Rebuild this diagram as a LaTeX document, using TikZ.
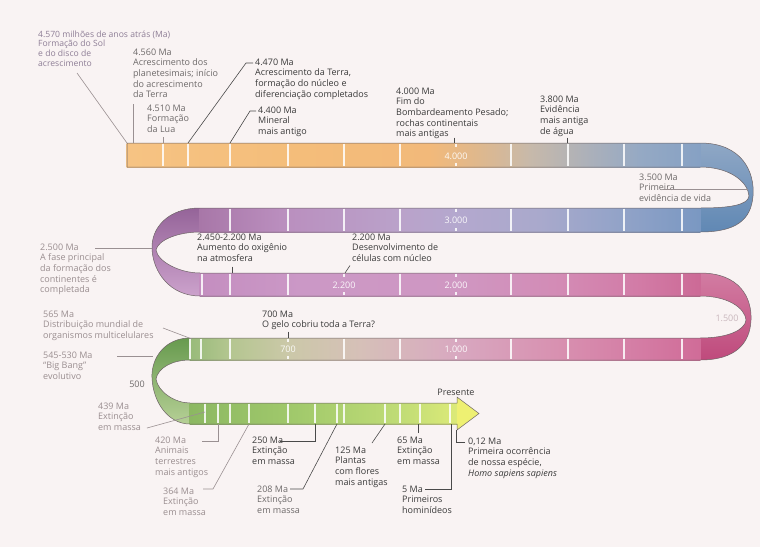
\documentclass[tikz,border=0pt]{standalone}
\usepackage{fontspec}
\setmainfont{Open Sans}
\definecolor{bg}{HTML}{F9F3F3}
\definecolor{txtdark}{HTML}{3A3A3A}
\definecolor{txtmid}{HTML}{6E6A6A}
\definecolor{txtfaint}{HTML}{9A8E90}
\definecolor{txtpurple}{HTML}{8E7E96}
\definecolor{txtpale}{HTML}{C9B7BD}
\definecolor{linedark}{HTML}{4A4A4A}
\definecolor{linefaint}{HTML}{9A9092}
\definecolor{ribbonedge}{HTML}{6E6466}
% band 1
\definecolor{b1a}{HTML}{F6C383}\definecolor{b1b}{HTML}{F4BD7A}\definecolor{b1c}{HTML}{F2B97A}
\definecolor{b1d}{HTML}{DEB88E}\definecolor{b1e}{HTML}{C7B9AA}\definecolor{b1f}{HTML}{ABB0BA}
\definecolor{b1g}{HTML}{95A9C4}\definecolor{b1h}{HTML}{86A1C4}
\definecolor{c1t}{HTML}{8FA7C5}\definecolor{c1b}{HTML}{6088B4}
% band 2
\definecolor{b2a}{HTML}{A877A8}\definecolor{b2b}{HTML}{BA8EBE}\definecolor{b2c}{HTML}{BAA2CA}
\definecolor{b2d}{HTML}{B4A8CE}\definecolor{b2e}{HTML}{A9A9CC}\definecolor{b2f}{HTML}{92A3C8}
\definecolor{b2g}{HTML}{7A98C2}
\definecolor{c2t}{HTML}{956499}\definecolor{c2b}{HTML}{CCA2CC}
% band 3
\definecolor{b3a}{HTML}{C48EC0}\definecolor{b3b}{HTML}{CB98C6}\definecolor{b3c}{HTML}{CF97C2}
\definecolor{b3d}{HTML}{D38BB5}\definecolor{b3e}{HTML}{D27BA6}\definecolor{b3f}{HTML}{CC6A96}
\definecolor{c3t}{HTML}{D27CA2}\definecolor{c3b}{HTML}{BF4A7C}
% band 4
\definecolor{b4a}{HTML}{98BB7A}\definecolor{b4b}{HTML}{B4C690}\definecolor{b4c}{HTML}{CBC8A8}
\definecolor{b4d}{HTML}{D6C0B8}\definecolor{b4e}{HTML}{D8A8C0}\definecolor{b4f}{HTML}{D890B0}
\definecolor{b4g}{HTML}{D47CA4}\definecolor{b4h}{HTML}{D06C98}
\definecolor{c4t}{HTML}{679A4E}\definecolor{c4b}{HTML}{B6D096}
% band 5
\definecolor{b5a}{HTML}{8CB862}\definecolor{b5b}{HTML}{A2CA6C}\definecolor{b5c}{HTML}{C0DC76}
\definecolor{b5d}{HTML}{DCEA78}\definecolor{arrowc}{HTML}{EEF072}
\newcommand\rseg[6]{\fill[left color=#5,right color=#6] ({#1-0.3},#3) rectangle ({#2+0.3},#4);}
\begin{document}
\begin{tikzpicture}[x=1pt,y=-1pt,
  txt/.style={anchor=north west,inner sep=0pt,align=left,font=\fontsize{9}{10.6}\selectfont,text=txtdark},
  faint/.style={txt,text=txtfaint},
  midt/.style={txt,text=txtmid},
  leader/.style={draw=linedark,line width=0.6pt},
  fleader/.style={draw=linefaint,line width=0.6pt},
  tickline/.style={draw=white,line width=1.1pt,opacity=0.85},
  blabel/.style={text=white,font=\fontsize{9}{10}\selectfont,inner sep=0.5pt,opacity=0.92},
  edgeline/.style={draw=ribbonedge,line width=0.5pt}]
\useasboundingbox (0,0) rectangle (760,547);
\fill[bg] (0,0) rectangle (760,547);

% ---------- curved pieces ----------
\path[top color=c1t,bottom color=c1b] (700,143) .. controls (742,143) and (755,172) .. (753,196) .. controls (751,220) and (736,232) .. (700,232) -- (700,208) .. controls (730,208) and (748,205) .. (749,196) .. controls (748,182) and (730,167) .. (700,167) -- cycle;
\path[top color=c2t,bottom color=c2b] (200,208) .. controls (168,208) and (151,228) .. (152,249) .. controls (153,272) and (170,296) .. (200,296) -- (200,273) .. controls (180,273) and (158,262) .. (156,250) .. controls (158,240) and (178,232) .. (200,232) -- cycle;
\path[top color=c3t,bottom color=c3b] (700,273) .. controls (740,273) and (752,298) .. (751,320) .. controls (750,343) and (736,360) .. (700,360) -- (700,338) .. controls (728,338) and (745,330) .. (746,320) .. controls (745,308) and (728,296) .. (700,296) -- cycle;
\path[top color=c4t,bottom color=c4b] (190,338) .. controls (165,338) and (151,358) .. (152,378) .. controls (153,402) and (168,424) .. (190,424) -- (190,403) .. controls (175,403) and (158,392) .. (156,379) .. controls (158,368) and (172,360) .. (190,360) -- cycle;

% ---------- straight bands ----------
\rseg{127}{300}{143}{167}{b1a}{b1b}\rseg{300}{430}{143}{167}{b1b}{b1c}
\rseg{430}{480}{143}{167}{b1c}{b1d}\rseg{480}{530}{143}{167}{b1d}{b1e}
\rseg{530}{590}{143}{167}{b1e}{b1f}\rseg{590}{640}{143}{167}{b1f}{b1g}
\rseg{640}{700}{143}{167}{b1g}{b1h}

\rseg{200}{280}{208}{232}{b2a}{b2b}\rseg{280}{400}{208}{232}{b2b}{b2c}
\rseg{400}{456}{208}{232}{b2c}{b2d}\rseg{456}{540}{208}{232}{b2d}{b2e}
\rseg{540}{620}{208}{232}{b2e}{b2f}\rseg{620}{700}{208}{232}{b2f}{b2g}

\rseg{200}{300}{273}{296}{b3a}{b3b}\rseg{300}{456}{273}{296}{b3b}{b3c}
\rseg{456}{560}{273}{296}{b3c}{b3d}\rseg{560}{640}{273}{296}{b3d}{b3e}
\rseg{640}{700}{273}{296}{b3e}{b3f}

\rseg{190}{230}{338}{360}{b4a}{b4b}\rseg{230}{288}{338}{360}{b4b}{b4c}
\rseg{288}{360}{338}{360}{b4c}{b4d}\rseg{360}{456}{338}{360}{b4d}{b4e}
\rseg{456}{560}{338}{360}{b4e}{b4f}\rseg{560}{640}{338}{360}{b4f}{b4g}
\rseg{640}{700}{338}{360}{b4g}{b4h}

\rseg{190}{300}{403}{424}{b5a}{b5b}\rseg{300}{400}{403}{424}{b5b}{b5c}
\rseg{400}{457}{403}{424}{b5c}{b5d}
\fill[arrowc] (457,397) -- (479,413.5) -- (457,430) -- cycle;

% ---------- ribbon edges ----------
\draw[edgeline] (127,167) -- (127,143) -- (700,143) .. controls (742,143) and (755,172) .. (753,196) .. controls (751,220) and (736,232) .. (700,232) -- (200,232);
\draw[edgeline] (127,167) -- (700,167) .. controls (730,167) and (748,182) .. (749,196) .. controls (748,205) and (730,208) .. (700,208) -- (200,208) .. controls (168,208) and (151,228) .. (152,249) .. controls (153,272) and (170,296) .. (200,296) -- (700,296);
\draw[edgeline] (200,232) .. controls (178,232) and (158,240) .. (156,250) .. controls (158,262) and (180,273) .. (200,273) -- (700,273) .. controls (740,273) and (752,298) .. (751,320) .. controls (750,343) and (736,360) .. (700,360) -- (190,360);
\draw[edgeline] (700,296) .. controls (728,296) and (745,308) .. (746,320) .. controls (745,330) and (728,338) .. (700,338) -- (190,338) .. controls (165,338) and (151,358) .. (152,378) .. controls (153,402) and (168,424) .. (190,424) -- (457,424) -- (457,430) -- (479,413.5) -- (457,397) -- (457,403) -- (190,403);
\draw[edgeline] (190,360) .. controls (172,360) and (158,368) .. (156,379) .. controls (158,392) and (175,403) .. (190,403);

% ---------- ticks ----------
\foreach \x in {163,188,230,288,344,400,511,568,624,682} \draw[tickline] (\x,143.6) -- (\x,166.4);
\foreach \x in {230,288,344,400,511,568,624,682} \draw[tickline] (\x,208.6) -- (\x,231.4);
\foreach \x in {202,230,288,400,511,568,624,682} \draw[tickline] (\x,273.6) -- (\x,295.4);
\foreach \x in {190,201,230,344,400,511,568,624,682} \draw[tickline] (\x,338.6) -- (\x,359.4);
\foreach \x in {205,218,230,249,288,315,337,344,385,400,420,450} \draw[tickline] (\x,403.6) -- (\x,423.4);
\foreach \x/\a/\b in {456/143/167,456/208/232,344/273/296,456/273/296,288/338/360,456/338/360}
  {\draw[tickline] (\x,\a+0.6) -- (\x,\a+4); \draw[tickline] (\x,\b-4) -- (\x,\b-0.6);}

% ---------- ribbon labels ----------
\node[blabel] (r4000) at (456,156) {4.000};
\node[blabel] (r3000) at (456,220.5) {3.000};
\node[blabel] (r2200) at (344,285) {2.200};
\node[blabel] (r2000) at (456,285) {2.000};
\node[blabel,text=txtpale,opacity=1] (r1500) at (727,318) {1.500};
\node[blabel] (r700) at (288,349.5) {700};
\node[blabel] (r1000) at (456,349.5) {1.000};

% ---------- band anchor points ----------
\coordinate (p4570) at (127,143);
\coordinate (p4560) at (133,143);
\coordinate (p4510) at (163,143);
\coordinate (p4470) at (188,143);
\coordinate (p4400) at (230,143);
\coordinate (p4000) at (454,143);
\coordinate (p3800) at (567,143);
\coordinate (p3500) at (748,189);
\coordinate (p2500) at (152,248);
\coordinate (p2450) at (232,273);
\coordinate (p2200) at (345,273);
\coordinate (p565) at (192,339);
\coordinate (p545) at (153,356);
\coordinate (p700) at (288,338);
\coordinate (p439) at (205,412);
\coordinate (p420) at (218,424);
\coordinate (p364) at (249,424);
\coordinate (p250) at (315,424);
\coordinate (p208) at (337,424);
\coordinate (p125) at (385,424);
\coordinate (p65) at (418,424);
\coordinate (p5) at (451,424);
\coordinate (p012) at (456,430);

% ---------- text blocks ----------
\node[txt,text=txtpurple,font=\fontsize{8.6}{9.6}\selectfont] (t4570) at (38,30.5) {4.570 milhões de anos atrás (Ma)\\Formação do Sol\\e do disco de\\acrescimento};
\node[midt] (t4560) at (133,48.5) {4.560 Ma\\Acrescimento dos\\planetesimais; início\\do acrescimento\\da Terra};
\node[midt] (t4510) at (147,104.5) {4.510 Ma\\Formação\\da Lua};
\node[txt] (t4470) at (255,58.5) {4.470 Ma\\Acrescimento da Terra,\\formação do núcleo e\\diferenciação completados};
\node[txt] (t4400) at (258,106.5) {4.400 Ma\\Mineral\\mais antigo};
\node[txt] (t4000) at (396,87.5) {4.000 Ma\\Fim do\\Bombardeamento Pesado;\\rochas continentais\\mais antigas};
\node[txt] (t3800) at (540,95.5) {3.800 Ma\\Evidência\\mais antiga\\de água};
\node[midt] (t3500) at (639,173.5) {3.500 Ma\\Primeira\\evidência de vida};
\node[faint] (t2500) at (40,243.5) {2.500 Ma\\A fase principal\\da formação dos\\continentes é\\completada};
\node[txt] (t2450) at (197,233.5) {2.450-2.200 Ma\\Aumento do oxigênio\\na atmosfera};
\node[txt] (t2200) at (352,233.5) {2.200 Ma\\Desenvolvimento de\\células com núcleo};
\node[faint] (t565) at (43,310.5) {565 Ma\\Distribuição mundial de\\organismos multicelulares};
\node[faint] (t545) at (43,351.5) {545-530 Ma\\“Big Bang”\\evolutivo};
\node[text=txtmid,font=\fontsize{9}{10}\selectfont,inner sep=0pt] (l500) at (137,384) {500};
\node[txt] (t700) at (262,310.5) {700 Ma\\O gelo cobriu toda a Terra?};
\node[faint] (t439) at (98,402.5) {439 Ma\\Extinção\\em massa};
\node[faint] (t420) at (155,436.5) {420 Ma\\Animais\\terrestres\\mais antigos};
\node[faint] (t364) at (163,487.5) {364 Ma\\Extinção\\em massa};
\node[txt] (t250) at (252,436.5) {250 Ma\\Extinção\\em massa};
\node[midt] (t208) at (257,485.5) {208 Ma\\Extinção\\em massa};
\node[txt] (t125) at (335,446.5) {125 Ma\\Plantas\\com flores\\mais antigas};
\node[txt] (t65) at (397,436.5) {65 Ma\\Extinção\\em massa};
\node[txt] (t5) at (402,485.5) {5 Ma\\Primeiros\\hominídeos};
\node[txt] (t012) at (468,437.5) {0,12 Ma\\Primeira ocorrência\\de nossa espécie,\\\textit{Homo sapiens sapiens}};
\node[text=txtdark,font=\fontsize{9}{10}\selectfont,inner sep=0pt] (tpres) at (456,392) {Presente};

% ---------- leaders ----------
\coordinate (s4570) at (77,73);
\draw[fleader] (s4570) -- (p4570);
\draw[fleader] (133,104) -- (p4560);
\draw[fleader] (163,137) -- (p4510);
\draw[leader] (t4470.north west) ++(-2,4.5) -- ++(-7,0) -- (p4470);
\draw[leader] (t4400.north west) ++(-2,4.5) -- ++(-6,0) -- (p4400);
\draw[leader] (454,137.5) -- (p4000);
\draw[leader] (567,137.5) -- (p3800);
\draw[fleader] (663,189) -- (p3500);
\draw[fleader] (95,248) -- (p2500);
\draw[leader] (232,266.5) -- (p2450);
\draw[leader] (350,265.5) -- (p2200);
\draw[fleader] (163,328) -- (p565);
\draw[fleader] (117,356) -- (p545);
\draw[leader] (288,331.5) -- (p700);
\draw[fleader] (147,428) -- (p439);
\draw[fleader] (202,441) -- (218,441) -- (p420);
\draw[fleader] (203,489) -- (213,489) -- (p364);
\draw[leader] (280,441) -- (315,441) -- (p250);
\draw[leader] (290,489) -- (303,489) -- (p208);
\draw[leader] (372,443) -- (p125);
\draw[leader] (418,433) -- (p65);
\draw[leader] (425,489) -- (451,489) -- (p5);
\draw[leader] (465,442) -- (456,442) -- (p012);
\end{tikzpicture}
\end{document}
